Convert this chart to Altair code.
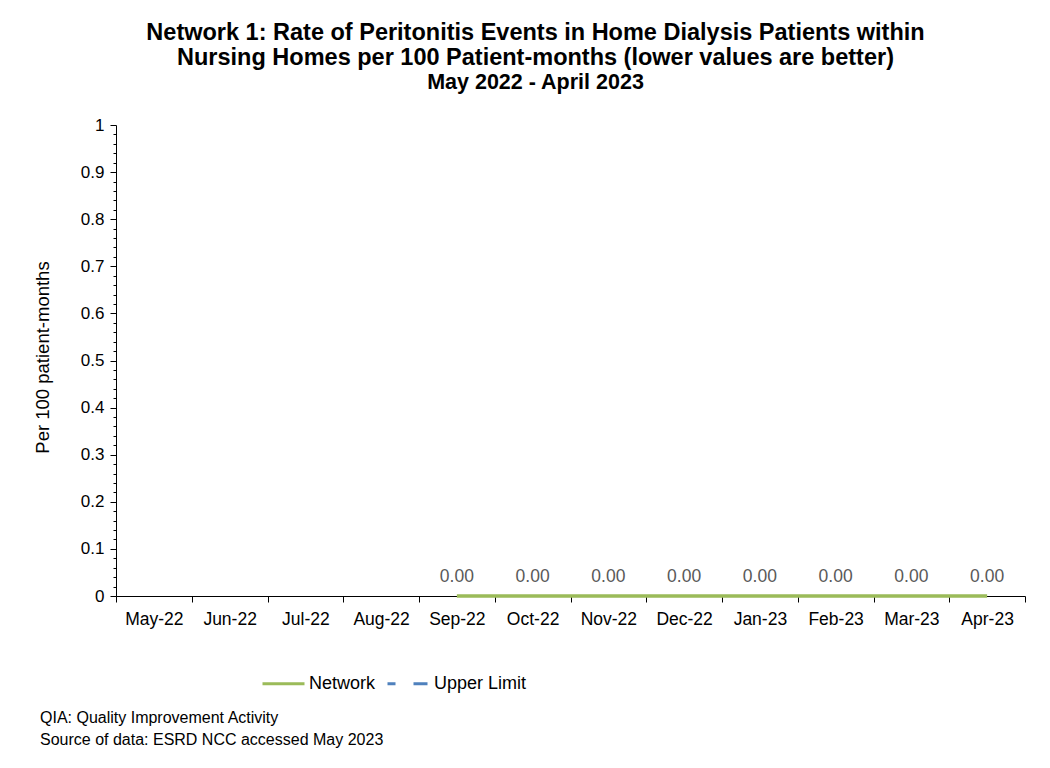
import altair as alt
import pandas as pd

months = ["May-22", "Jun-22", "Jul-22", "Aug-22", "Sep-22", "Oct-22",
          "Nov-22", "Dec-22", "Jan-23", "Feb-23", "Mar-23", "Apr-23"]
network = [None, None, None, None, 0.0, 0.0, 0.0, 0.0, 0.0, 0.0, 0.0, 0.0]
upper_limit = [None] * 12
series_names = ["Network", "Upper Limit"]
series_colors = ["#9BBB59", "#4F81BD"]
tick_values = [i / 50 for i in range(51)]
title_lines = ["Network 1: Rate of Peritonitis Events in Home Dialysis Patients within",
               "Nursing Homes per 100 Patient-months (lower values are better)"]
subtitle = "May 2022 - April 2023"
notes = ["QIA:  Quality Improvement Activity",
         "Source of data:  ESRD NCC accessed May 2023"]

rows = []
for m, n, u in zip(months, network, upper_limit):
    rows.append({"month": m, "series": "Network", "value": n})
    rows.append({"month": m, "series": "Upper Limit", "value": u})
df = pd.DataFrame(rows)
net_df = df[(df["series"] == "Network") & df["value"].notna()]

FONT = "Liberation Sans"
IS_MAJOR = "abs(datum.value * 10 - round(datum.value * 10)) < 0.001"
NO_VIEW = alt.ViewBackground(stroke="transparent", strokeWidth=0)

xenc = alt.X("month:N", sort=months, bandPosition=0.5,
             scale=alt.Scale(type="band", domain=months, paddingInner=0, paddingOuter=0),
             axis=alt.Axis(title=None, tickBand="extent", labelAngle=0, labelFontSize=17.5,
                           labelFont=FONT, labelColor="#000000", domainColor="#000000",
                           tickColor="#000000", tickSize=6, labelPadding=8, domainWidth=1,
                           grid=False))

yenc = alt.Y("value:Q", scale=alt.Scale(domain=[0, 1], nice=False, zero=True),
             axis=alt.Axis(orient="left", values=tick_values, labelOverlap=False,
                           labelExpr=f"{IS_MAJOR} ? format(datum.value, '~g') : ''",
                           title="Per 100 patient-months",
                           labelFontSize=17, labelFont=FONT, labelColor="#000000",
                           titleFontSize=18.5, titleFont=FONT, titleFontWeight="normal", titleColor="#000000",
                           titleX=-74, titleY=232, titleAngle=-90, titleAlign="center", titleBaseline="middle",
                           domainColor="#000000", tickColor="#000000",
                           tickSize={"condition": {"test": IS_MAJOR, "value": 6}, "value": 3},
                           labelPadding=6, grid=False))

legend = alt.Legend(title=None, orient="none", legendX=145, legendY=536, direction="horizontal",
                    symbolType="stroke", symbolSize=1764, symbolStrokeWidth=3,
                    labelFontSize=18, labelFont=FONT, labelColor="#000000",
                    columnPadding=5, labelOffset=3)

line = alt.Chart(df).mark_line(strokeWidth=3.5).encode(
    x=xenc,
    y=yenc,
    color=alt.Color("series:N", scale=alt.Scale(domain=series_names, range=series_colors), legend=legend),
    strokeDash=alt.StrokeDash("series:N",
                              scale=alt.Scale(domain=series_names, range=[[1, 0], [8, 18, 14, 20]]),
                              legend=legend),
)

labels = alt.Chart(net_df).mark_text(dy=-19, fontSize=17.5, font=FONT, color="#595959").encode(
    x=xenc,
    y=yenc,
    text=alt.Text("value:Q", format=".2f"),
)

note_df = pd.DataFrame({"note": ["\n".join(notes)]})
footnote = alt.Chart(note_df).mark_text(align="left", baseline="alphabetic", lineBreak="\n",
                                        lineHeight=22, fontSize=16, font=FONT,
                                        color="#000000").encode(
    x=alt.value(-76), y=alt.value(598), text="note:N")

chart = alt.layer(line, labels, footnote).properties(
    width=909, height=471,
    padding={"left": 108, "top": 117, "right": 10, "bottom": 170},
    autosize=alt.AutoSizeParams(type="none"),
    view=NO_VIEW,
    title=alt.Title(text=title_lines, subtitle=subtitle, font=FONT, fontSize=23.5, fontWeight="bold",
                    subtitleFont=FONT, subtitleFontSize=21.5, subtitleFontWeight="bold",
                    color="#000000", subtitleColor="#000000", anchor="middle", frame="group",
                    dx=-35, offset=23, lineHeight=25, subtitlePadding=2, subtitleLineHeight=24),
).configure(
    background="white",
    view=alt.ViewConfig(stroke="transparent", strokeWidth=0),
    axis=alt.AxisConfig(grid=False),
    axisTop=alt.AxisConfig(domain=False, grid=False),
    axisRight=alt.AxisConfig(domain=False, grid=False),
)

chart.save("out.html", embed_options={"renderer": "svg", "actions": False})
